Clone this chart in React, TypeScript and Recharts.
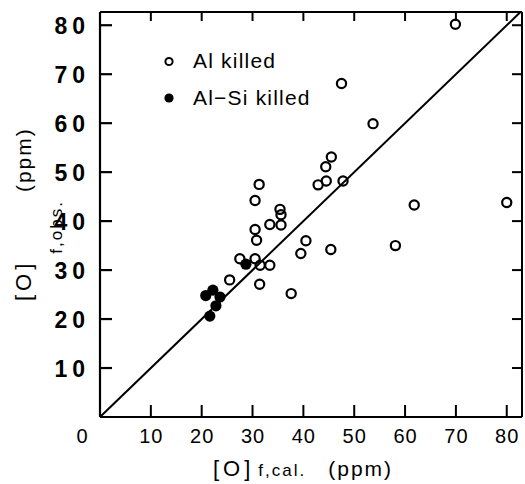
import React from "react";
import { ScatterChart, Scatter, XAxis, YAxis, ReferenceLine } from "recharts";

const FONT = "'Liberation Sans', Arial, Helvetica, sans-serif";

// [O] calculated vs observed, ppm
const alKilledCal = [69.9, 47.5, 53.7, 45.5, 44.4, 44.5, 42.9, 47.8, 31.3, 30.5, 35.4, 35.6, 33.4, 35.6, 30.5, 30.8, 40.5, 39.5, 45.4, 27.5, 30.5, 31.5, 33.4, 25.5, 31.4, 37.6, 58.1, 61.8, 80.0];
const alKilledObs = [80.2, 68.1, 59.9, 53.1, 51.1, 48.2, 47.4, 48.2, 47.5, 44.2, 42.4, 41.3, 39.3, 39.2, 38.3, 36.1, 36.0, 33.4, 34.2, 32.3, 32.3, 31.0, 31.0, 28.0, 27.1, 25.2, 35.0, 43.3, 43.8];

const alSiKilledCal = [28.7, 20.8, 22.2, 23.6, 22.8, 21.6];
const alSiKilledObs = [31.2, 24.8, 25.9, 24.5, 22.7, 20.6];

const xTicks = [0, 10, 20, 30, 40, 50, 60, 70, 80];
const yTicks = [10, 20, 30, 40, 50, 60, 70, 80];
const AXIS_MAX_X = 83;
const AXIS_MAX_Y = 82.7;

const alKilled = alKilledCal.map((cal, i) => ({ cal, obs: alKilledObs[i] }));
const alSiKilled = alSiKilledCal.map((cal, i) => ({ cal, obs: alSiKilledObs[i] }));

const OpenDot = (props: any) => (
  <circle cx={props.cx} cy={props.cy} r={4.6} fill="none" stroke="#000" strokeWidth={2.2} />
);
const FilledDot = (props: any) => <circle cx={props.cx} cy={props.cy} r={5.6} fill="#000" />;

function BottomTick({ x, y, payload }: any) {
  if (payload.value === 0) {
    return (
      <text x={x - 18} y={y + 26} textAnchor="middle" fontSize={20} fontFamily={FONT} fill="#000">
        0
      </text>
    );
  }
  return (
    <g>
      <line x1={x} y1={y} x2={x} y2={y - 12} stroke="#000" strokeWidth={2} />
      <text x={x + 0.5} y={y + 26} textAnchor="middle" fontSize={20} letterSpacing={1} fontFamily={FONT} fill="#000">
        {payload.value}
      </text>
    </g>
  );
}

function LeftTick({ x, y, payload }: any) {
  return (
    <g>
      <line x1={x} y1={y} x2={x + 12} y2={y} stroke="#000" strokeWidth={2.2} />
      <text x={x - 10} y={y + 8.5} textAnchor="end" fontSize={23} fontWeight="bold" letterSpacing={5} fontFamily={FONT} fill="#000">
        {payload.value}
      </text>
    </g>
  );
}

// mirrored frame ticks on the top and right edges, pointing inward
function TopTick({ x, y, payload }: any) {
  if (payload.value === 0) return <g />;
  return <line x1={x} y1={y} x2={x} y2={y + 9} stroke="#000" strokeWidth={2} />;
}

function RightTick({ x, y }: any) {
  return <line x1={x} y1={y} x2={x - 10} y2={y} stroke="#000" strokeWidth={2} />;
}

function XTitle({ viewBox }: any) {
  const { x, y } = viewBox;
  return (
    <text x={x + 113} y={y + 59} fontFamily={FONT} fill="#000">
      <tspan fontSize={22} letterSpacing={4}>[O]</tspan>
      <tspan fontSize={17} letterSpacing={2} dx={4}>f,cal.</tspan>
      <tspan fontSize={21} letterSpacing={2} dx={22}>(ppm)</tspan>
    </text>
  );
}

function YTitle() {
  const x = 31;
  const y = 301;
  return (
    <text x={x} y={y} transform={`rotate(-90 ${x} ${y})`} fontFamily={FONT} fill="#000">
      <tspan fontSize={22} letterSpacing={4}>[O]</tspan>
      <tspan fontSize={17} letterSpacing={2} dx={6} dy={31}>f,obs.</tspan>
      <tspan fontSize={21} letterSpacing={2} dx={8} dy={-31}>(ppm)</tspan>
    </text>
  );
}

export default function App() {
  return (
    <div style={{ position: "absolute", left: 0, top: 0, width: 525, height: 484, background: "#fff" }}>
      <ScatterChart width={525} height={484} margin={{ top: 11, right: 2, left: 0, bottom: 0 }}>
        <XAxis
          type="number"
          dataKey="cal"
          domain={[0, AXIS_MAX_X]}
          allowDataOverflow
          ticks={xTicks}
          interval={0}
          height={67}
          tickSize={0}
          tickMargin={0}
          tick={BottomTick}
          axisLine={{ stroke: "#000", strokeWidth: 2.2 }}
          label={<XTitle />}
        />
        <XAxis
          xAxisId="top"
          orientation="top"
          type="number"
          dataKey="cal"
          domain={[0, AXIS_MAX_X]}
          allowDataOverflow
          ticks={xTicks}
          interval={0}
          height={1}
          tickSize={0}
          tickMargin={0}
          tick={TopTick}
          axisLine={{ stroke: "#000", strokeWidth: 1.8 }}
        />
        <YAxis
          type="number"
          dataKey="obs"
          domain={[0, AXIS_MAX_Y]}
          allowDataOverflow
          ticks={yTicks}
          interval={0}
          width={100}
          tickSize={0}
          tickMargin={0}
          tick={LeftTick}
          axisLine={{ stroke: "#000", strokeWidth: 2.2 }}
        />
        <YAxis
          yAxisId="right"
          orientation="right"
          type="number"
          dataKey="obs"
          domain={[0, AXIS_MAX_Y]}
          allowDataOverflow
          ticks={yTicks}
          interval={0}
          width={1}
          tickSize={0}
          tickMargin={0}
          tick={RightTick}
          axisLine={{ stroke: "#000", strokeWidth: 2 }}
        />
        <ReferenceLine
          segment={[
            { x: 0, y: 0 },
            { x: AXIS_MAX_Y, y: AXIS_MAX_Y },
          ]}
          stroke="#000"
          strokeWidth={2}
        />
        <Scatter name="Al killed" data={alKilled} shape={OpenDot} isAnimationActive={false} />
        <Scatter name="Al-Si killed" data={alSiKilled} shape={FilledDot} isAnimationActive={false} />
      </ScatterChart>
      <svg width={525} height={484} style={{ position: "absolute", left: 0, top: 0, pointerEvents: "none" }}>
        <YTitle />
        <g fontFamily={FONT} fontSize={21} letterSpacing={1.2} fill="#000">
          <circle cx={169} cy={61.5} r={3.6} fill="none" stroke="#000" strokeWidth={2} />
          <text x={193} y={68}>Al killed</text>
          <circle cx={169} cy={98} r={4.6} fill="#000" />
          <text x={193} y={105}>Al−Si killed</text>
        </g>
      </svg>
    </div>
  );
}
